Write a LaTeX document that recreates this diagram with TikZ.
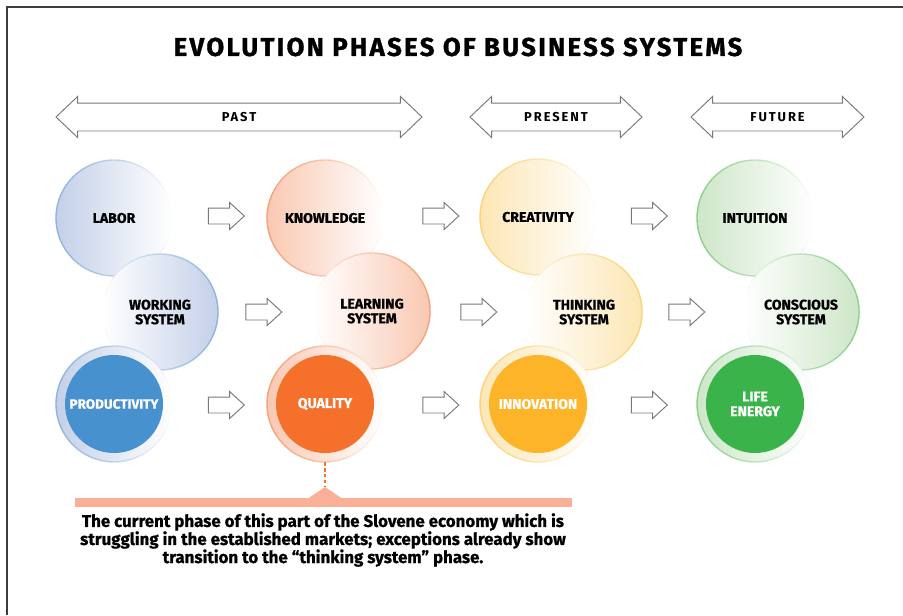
\documentclass[tikz,border=0pt]{standalone}
\usepackage{fontspec}
\setmainfont{Fira Sans}
\newfontfamily\spacedfont[LetterSpace=15]{Fira Sans}
\newfontfamily\titlefont[LetterSpace=9,FakeBold=1.2]{Fira Sans}
\newfontfamily\heavyfont[FakeBold=0.8]{Fira Sans}
\usetikzlibrary{shapes.arrows,fadings}

\definecolor{bluelt}{RGB}{196,208,232}
\definecolor{blueln}{RGB}{140,180,222}
\definecolor{blueco}{RGB}{72,145,207}
\definecolor{orangelt}{RGB}{250,200,178}
\definecolor{orangeln}{RGB}{246,160,120}
\definecolor{orangeco}{RGB}{245,112,42}
\definecolor{yellowlt}{RGB}{252,230,180}
\definecolor{yellowln}{RGB}{252,210,120}
\definecolor{yellowco}{RGB}{253,180,40}
\definecolor{greenlt}{RGB}{206,230,200}
\definecolor{greenln}{RGB}{140,206,140}
\definecolor{greenco}{RGB}{58,180,74}
\definecolor{barsalmon}{RGB}{249,176,150}
\definecolor{arrowgray}{RGB}{120,120,120}
\definecolor{framegray}{RGB}{60,60,60}

\tikzfading[name=ringfadeR, left color=transparent!0, middle color=transparent!15, right color=transparent!100]
\tikzfading[name=ringfadeL, left color=transparent!100, middle color=transparent!15, right color=transparent!0]

\begin{document}
\begin{tikzpicture}[x=0.03cm, y=-0.03cm]
		\tikzstyle{lbl}=[font=\heavyfont\bfseries\fontsize{12}{12.5}\selectfont, align=center, text=black]
		\tikzstyle{softdisk}=[circle, minimum size=3.48cm, inner sep=0, lbl]
		\tikzstyle{coredisk}=[circle, minimum size=2.94cm, inner sep=0, lbl, text=white]
		\tikzstyle{ring}=[line width=1.2pt]
		\tikzstyle{stepper}=[single arrow, draw=arrowgray, fill=white, line width=0.8pt, minimum height=1.08cm, minimum width=1pt, inner xsep=0, inner ysep=0.225cm, single arrow head extend=0.165cm, single arrow tip angle=85]
		\tikzstyle{era}=[double arrow, draw=arrowgray, fill=white, line width=0.8pt, minimum width=1pt, inner xsep=0, inner ysep=0.405cm, double arrow head extend=0.195cm, double arrow tip angle=87]
		\tikzstyle{eralbl}=[font=\spacedfont\bfseries\fontsize{11}{12}\selectfont]
		
		\useasboundingbox (0,0) rectangle (903,615);
		\draw[framegray, line width=1.6pt] (7,615) -- (7,7) -- (903,7);
		
		% Titel
		\node[font=\titlefont\bfseries\fontsize{22}{24}\selectfont] (title) at (458,47) {EVOLUTION PHASES OF BUSINESS SYSTEMS};
		
		% Zeitachsen
		\node[era, minimum height=10.98cm] (past) at (239,117) {};
		\node[eralbl] (pastlbl) at (past) {PAST};
		\node[era, minimum height=5.16cm] (present) at (556,117) {};
		\node[eralbl] (presentlbl) at (present) {PRESENT};
		\node[era, minimum height=5.19cm] (future) at (777.5,117) {};
		\node[eralbl] (futurelbl) at (future) {FUTURE};
		
		% Spalte 1: Working system
		\node[softdisk, left color=bluelt, right color=white] (labor) at (114,218) {LABOR};
		\draw[blueln, ring, path fading=ringfadeR] (labor.center) circle (1.74cm);
		\node[softdisk, left color=white, right color=bluelt] (working) at (160,312) {WORKING\\SYSTEM};
		\draw[blueln, ring, path fading=ringfadeL] (working.center) circle (1.74cm);
		\node[softdisk, left color=bluelt, right color=white] (prodring) at (114,404) {};
		\draw[blueln, ring, path fading=ringfadeR] (prodring.center) circle (1.74cm);
		\node[coredisk, fill=blueco, font=\heavyfont\bfseries\fontsize{11.5}{12}\selectfont] (productivity) at (prodring.center) {PRODUCTIVITY};
		
		% Spalte 2: Learning system
		\node[softdisk, left color=orangelt, right color=white] (knowledge) at (325,218) {KNOWLEDGE};
		\draw[orangeln, ring, path fading=ringfadeR] (knowledge.center) circle (1.74cm);
		\node[softdisk, left color=white, right color=orangelt] (learning) at (372,311) {LEARNING\\SYSTEM};
		\draw[orangeln, ring, path fading=ringfadeL] (learning.center) circle (1.74cm);
		\node[softdisk, left color=orangelt, right color=white] (qualring) at (325,404) {};
		\draw[orangeln, ring, path fading=ringfadeR] (qualring.center) circle (1.74cm);
		\node[coredisk, fill=orangeco] (quality) at (qualring.center) {QUALITY};
		
		% Spalte 3: Thinking system
		\node[softdisk, left color=yellowlt, right color=white] (creativity) at (538,217) {CREATIVITY};
		\draw[yellowln, ring, path fading=ringfadeR] (creativity.center) circle (1.74cm);
		\node[softdisk, left color=white, right color=yellowlt] (thinking) at (584,312) {THINKING\\SYSTEM};
		\draw[yellowln, ring, path fading=ringfadeL] (thinking.center) circle (1.74cm);
		\node[softdisk, left color=yellowlt, right color=white] (innoring) at (538,404) {};
		\draw[yellowln, ring, path fading=ringfadeR] (innoring.center) circle (1.74cm);
		\node[coredisk, fill=yellowco] (innovation) at (innoring.center) {INNOVATION};
		
		% Spalte 4: Conscious system
		\node[softdisk, left color=greenlt, right color=white] (intuition) at (755,218) {INTUITION};
		\draw[greenln, ring, path fading=ringfadeR] (intuition.center) circle (1.74cm);
		\node[softdisk, left color=white, right color=greenlt] (conscious) at (801,312) {CONSCIOUS\\SYSTEM};
		\draw[greenln, ring, path fading=ringfadeL] (conscious.center) circle (1.74cm);
		\node[softdisk, left color=greenlt, right color=white] (lifering) at (755,404) {};
		\draw[greenln, ring, path fading=ringfadeR] (lifering.center) circle (1.74cm);
		\node[coredisk, fill=greenco] (life) at (lifering.center) {LIFE\\ENERGY};
		
		% Pfeile zwischen den Spalten
		\node[stepper] (a11) at (222,216) {};
		\node[stepper] (a12) at (436.5,216) {};
		\node[stepper] (a13) at (645,216) {};
		\node[stepper] (a21) at (259.5,312) {};
		\node[stepper] (a22) at (474.5,312) {};
		\node[stepper] (a23) at (682.5,312) {};
		\node[stepper] (a31) at (222,405) {};
		\node[stepper] (a32) at (436.5,405) {};
		\node[stepper] (a33) at (645,405) {};
		
		% Hinweis
		\node[fill=barsalmon, minimum width=14.91cm, minimum height=0.27cm, inner sep=0] (bar) at (323.5,502.5) {};
		\coordinate (apex) at (325,487);
		\fill[barsalmon] (apex) -- (308,498.5) -- (342,498.5) -- cycle;
		\draw[orangeco, line width=1pt, dash pattern=on 3pt off 2pt] (qualring.south) -- (apex);
		\node[font=\heavyfont\bfseries\fontsize{14.4}{15.4}\selectfont, align=center] (note) at (323,540) {The current phase of this part of the Slovene economy which is\\struggling in the established markets; exceptions already show\\transition to the “thinking system” phase.};
		
	\end{tikzpicture}
\end{document}
